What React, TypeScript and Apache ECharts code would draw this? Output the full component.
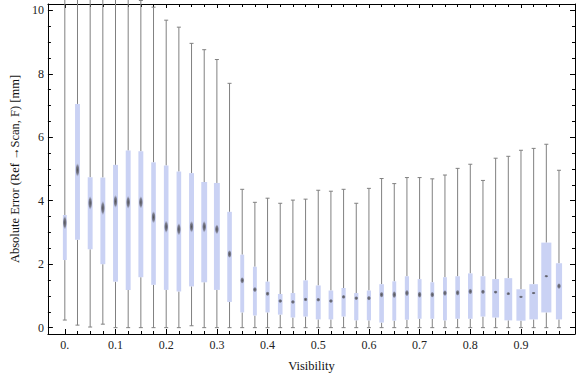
import React, { useEffect, useRef } from "react";
import * as echarts from "echarts";

const visibility = [
  0, 0.025, 0.05, 0.075, 0.1, 0.125, 0.15, 0.175, 0.2, 0.225,
  0.25, 0.275, 0.3, 0.325, 0.35, 0.375, 0.4, 0.425, 0.45, 0.475,
  0.5, 0.525, 0.55, 0.575, 0.6, 0.625, 0.65, 0.675, 0.7, 0.725,
  0.75, 0.775, 0.8, 0.825, 0.85, 0.875, 0.9, 0.925, 0.95, 0.975,
];
const whiskerLow = [
  0.24, 0.08, 0.02, 0.11, 0, 0, 0, 0, 0, 0,
  0.06, 0, 0, 0, 0, 0, 0, 0, 0, 0,
  0, 0, 0, 0, 0, 0, 0, 0, 0, 0,
  0, 0, 0, 0, 0, 0, 0, 0, 0, 0,
];
const lowerQuartile = [
  2.13, 2.77, 2.47, 2.0, 1.45, 1.19, 1.59, 1.35, 1.19, 1.14,
  1.3, 1.43, 1.19, 0.81, 0.48, 0.38, 0.48, 0.41, 0.32, 0.35,
  0.26, 0.26, 0.35, 0.23, 0.23, 0.16, 0.22, 0.25, 0.28, 0.28,
  0.23, 0.28, 0.28, 0.35, 0.32, 0.23, 0.22, 0.26, 0.48, 0.26,
];
const median = [
  3.31, 4.97, 3.93, 3.77, 3.98, 3.95, 3.95, 3.48, 3.18, 3.1,
  3.18, 3.18, 3.1, 2.32, 1.49, 1.2, 1.07, 0.84, 0.81, 0.89,
  0.88, 0.84, 0.97, 0.93, 0.93, 1.04, 1.04, 1.09, 1.04, 1.04,
  1.09, 1.1, 1.14, 1.13, 1.12, 1.07, 0.97, 1.09, 1.62, 1.31,
];
const upperQuartile = [
  3.55, 7.05, 4.74, 4.73, 5.13, 5.58, 5.56, 5.21, 5.11, 4.92,
  4.87, 4.59, 4.56, 3.65, 2.3, 1.92, 1.45, 1.06, 1.09, 1.49,
  1.33, 1.17, 1.25, 1.09, 1.17, 1.37, 1.46, 1.62, 1.53, 1.43,
  1.59, 1.62, 1.71, 1.62, 1.53, 1.56, 1.21, 1.37, 2.68, 2.03,
];
const whiskerHigh = [
  12.1, 12.3, 11.8, 11.6, 11.4, 11.0, 10.31, 10.1, 9.69, 9.47,
  8.96, 8.76, 8.45, 7.7, 4.36, 3.95, 4.08, 3.92, 4.02, 4.05,
  4.33, 4.3, 4.36, 3.92, 4.39, 4.7, 4.54, 4.73, 4.73, 4.69,
  4.81, 5.02, 5.15, 4.64, 5.34, 5.4, 5.59, 5.65, 5.78, 4.96,
];
// box width, in visibility units
const boxWidth = [
  0.0077, 0.0097, 0.0097, 0.0097, 0.0097, 0.0097, 0.0097, 0.0091, 0.0091, 0.0091,
  0.0097, 0.0116, 0.0116, 0.0091, 0.0077, 0.0077, 0.0083, 0.0091, 0.0091, 0.0091,
  0.0097, 0.0091, 0.0083, 0.0083, 0.0083, 0.0091, 0.0077, 0.0083, 0.0077, 0.0077,
  0.0077, 0.0091, 0.0091, 0.0097, 0.0135, 0.0154, 0.018, 0.0168, 0.0199, 0.0122,
];
// half-height of the median marker, in mm
const medianSpread = [
  0.22, 0.22, 0.22, 0.23, 0.21, 0.21, 0.2, 0.2, 0.2, 0.2,
  0.19, 0.19, 0.16, 0.13, 0.11, 0.09, 0.08, 0.07, 0.07, 0.07,
  0.07, 0.07, 0.07, 0.07, 0.08, 0.1, 0.12, 0.11, 0.11, 0.1,
  0.1, 0.1, 0.1, 0.08, 0.06, 0.06, 0.05, 0.05, 0.05, 0.1,
];

const xMajorTicks = [0, 0.1, 0.2, 0.3, 0.4, 0.5, 0.6, 0.7, 0.8, 0.9];
const xMinorTicks = [
  0.025, 0.05, 0.075, 0.125, 0.15, 0.175, 0.225, 0.25, 0.275, 0.325, 0.35, 0.375,
  0.425, 0.45, 0.475, 0.525, 0.55, 0.575, 0.625, 0.65, 0.675, 0.725, 0.75, 0.775,
  0.825, 0.85, 0.875, 0.925, 0.95, 0.975,
];
const yMajorTicks = [0, 2, 4, 6, 8, 10];
const yMinorTicks = [0.5, 1, 1.5, 2.5, 3, 3.5, 4.5, 5, 5.5, 6.5, 7, 7.5, 8.5, 9, 9.5];

const X_MIN = -0.0334;
const X_MAX = 1.0066;
const Y_MIN = -0.2;
const Y_MAX = 10.2;
const FONT = "'Liberation Serif', 'Times New Roman', serif";

export default function App() {
  const ref = useRef<HTMLDivElement>(null);

  useEffect(() => {
    if (!ref.current) return;
    const chart = echarts.init(ref.current, undefined, { renderer: "svg" });

    const data = visibility.map((v, i) => [
      v,
      whiskerLow[i],
      lowerQuartile[i],
      median[i],
      upperQuartile[i],
      whiskerHigh[i],
      boxWidth[i],
      medianSpread[i],
    ]);

    const tickLine = { color: "#000", width: 1 };

    const xAxisBase = (position: string, ticks: number[], len: number, main: boolean, labels: boolean) => ({
      type: "value",
      position,
      min: X_MIN,
      max: X_MAX,
      axisLine: { show: main, onZero: false, lineStyle: tickLine },
      axisTick: { show: true, inside: true, length: len, customValues: ticks, lineStyle: tickLine },
      axisLabel: labels
        ? {
            show: true,
            customValues: ticks,
            formatter: (v: number) => (v === 0 ? "0." : v.toFixed(1)),
            margin: 5,
            fontFamily: FONT,
            fontSize: 12,
            color: "#222",
          }
        : { show: false },
      splitLine: { show: false },
    });

    const yAxisBase = (position: string, ticks: number[], len: number, main: boolean, labels: boolean) => ({
      type: "value",
      position,
      min: Y_MIN,
      max: Y_MAX,
      axisLine: { show: main, onZero: false, lineStyle: tickLine },
      axisTick: { show: true, inside: true, length: len, customValues: ticks, lineStyle: tickLine },
      axisLabel: labels
        ? {
            show: true,
            customValues: ticks,
            formatter: (v: number) => String(v),
            margin: 4,
            fontFamily: FONT,
            fontSize: 12,
            color: "#222",
          }
        : { show: false },
      splitLine: { show: false },
    });

    const option: any = {
      animation: false,
      backgroundColor: "#fff",
      grid: { left: 36, top: 4, right: 1, bottom: 40, containLabel: false },
      xAxis: [
        {
          ...xAxisBase("bottom", xMajorTicks, 5, true, true),
          name: "Visibility",
          nameLocation: "middle",
          nameGap: 25,
          nameTextStyle: { fontFamily: FONT, fontSize: 12.5, color: "#111" },
        },
        xAxisBase("bottom", xMinorTicks, 3, false, false),
        xAxisBase("top", xMajorTicks, 4, true, false),
        xAxisBase("top", xMinorTicks, 3, false, false),
      ],
      yAxis: [
        {
          ...yAxisBase("left", yMajorTicks, 5, true, true),
          name: "Absolute Error (Ref \u2192Scan, F) [mm]",
          nameLocation: "middle",
          nameGap: 26,
          nameTextStyle: { fontFamily: FONT, fontSize: 12.5, color: "#111" },
        },
        yAxisBase("left", yMinorTicks, 3, false, false),
        yAxisBase("right", yMajorTicks, 5, true, false),
        yAxisBase("right", yMinorTicks, 3, false, false),
      ],
      series: [
        {
          type: "custom",
          xAxisIndex: 0,
          yAxisIndex: 0,
          clip: false,
          data,
          encode: { x: 0, y: [1, 2, 3, 4, 5] },
          renderItem: (params: any, api: any) => {
            const x = api.value(0);
            const lo = api.value(1);
            const q1 = api.value(2);
            const md = api.value(3);
            const q3 = api.value(4);
            const hi = api.value(5);
            const w = api.size([api.value(6), 0])[0];
            const ms = api.size([0, api.value(7)])[1];
            const pLo = api.coord([x, lo]);
            const cx = pLo[0];
            const yLo = pLo[1];
            const yQ1 = api.coord([x, q1])[1];
            const yMd = api.coord([x, md])[1];
            const yQ3 = api.coord([x, q3])[1];
            const yHi = api.coord([x, hi])[1];
            const whisker = { stroke: "#808080", lineWidth: 1 };
            return {
              type: "group",
              children: [
                { type: "line", shape: { x1: cx, y1: yQ3, x2: cx, y2: yHi }, style: whisker },
                { type: "line", shape: { x1: cx, y1: yQ1, x2: cx, y2: yLo }, style: whisker },
                { type: "line", shape: { x1: cx - 2, y1: yHi, x2: cx + 2, y2: yHi }, style: whisker },
                { type: "line", shape: { x1: cx - 2, y1: yLo, x2: cx + 2, y2: yLo }, style: whisker },
                {
                  type: "rect",
                  shape: { x: cx - w / 2, y: yQ3, width: w, height: yQ1 - yQ3 },
                  style: { fill: "#cad2f4" },
                },
                {
                  type: "ellipse",
                  shape: { cx, cy: yMd, rx: 2.2, ry: ms },
                  style: {
                    fill: {
                      type: "radial",
                      x: 0.5,
                      y: 0.5,
                      r: 0.5,
                      colorStops: [
                        { offset: 0, color: "rgba(80,80,85,1)" },
                        { offset: 0.6, color: "rgba(95,95,105,0.7)" },
                        { offset: 1, color: "rgba(150,150,170,0)" },
                      ],
                    },
                  },
                },
              ],
            };
          },
        },
      ],
    };

    chart.setOption(option);
    return () => chart.dispose();
  }, []);

  return (
    <div
      ref={ref}
      style={{ position: "absolute", left: 0, top: 0, width: 576, height: 377 }}
    />
  );
}
